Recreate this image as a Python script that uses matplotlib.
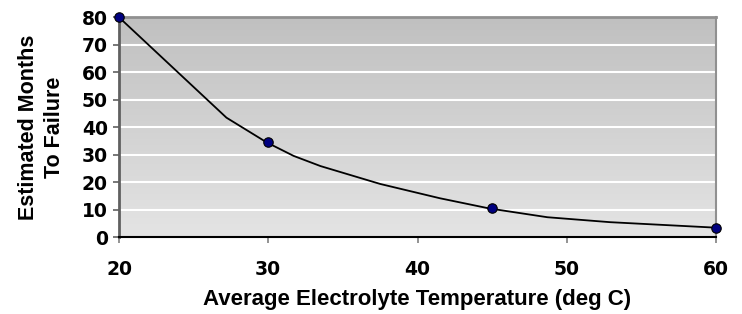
import matplotlib
matplotlib.use("Agg")
import matplotlib.pyplot as plt
import numpy as np

# measured points (markers)
temp = [20, 30, 45, 60]
months = [80, 34.5, 10.5, 3.5]

# vertices of the smoothed curve as drawn in the picture
curve_x = [20, 27.2, 29.9, 31.7, 33.5, 37.5, 41.5, 44.8, 48.7, 52.9, 60]
curve_y = [80, 43.5, 34.5, 29.6, 25.9, 19.4, 14.2, 10.5, 7.3, 5.5, 3.5]

x_ticks = [20, 30, 40, 50, 60]
y_ticks = [0, 10, 20, 30, 40, 50, 60, 70, 80]

plt.rcParams['font.family'] = ['Liberation Sans', 'DejaVu Sans']
plt.rcParams['font.weight'] = 'bold'

fig = plt.figure(figsize=(7.42, 3.14), dpi=100)
ax = fig.add_axes([119 / 742, 1 - 237.3 / 314, 597 / 742, 220 / 314])

# grey gradient background, darker at the top
grad = np.linspace(0, 1, 256).reshape(-1, 1)
ax.imshow(grad, cmap=matplotlib.colors.LinearSegmentedColormap.from_list("g", ["#e4e4e4", "#c0c0c0"]),
          aspect="auto", extent=[20, 60, 0, 80], origin="lower", zorder=0)

for y in y_ticks[1:-1]:
    ax.axhline(y, color="white", lw=1.5, zorder=1)

ax.plot(curve_x, curve_y, color="black", lw=1.3, zorder=3, clip_on=False)
ax.plot(temp, months, linestyle="none", marker="o", markersize=6.8,
        markerfacecolor="#000080", markeredgecolor="black", markeredgewidth=0.8,
        zorder=4, clip_on=False)

ax.set_xlim(20, 60)
ax.set_ylim(0, 80)
ax.set_xticks(x_ticks)
ax.set_yticks(y_ticks)
ax.tick_params(axis="both", labelsize=13.5, direction="out", length=4, width=1.2)
ax.tick_params(axis="y", colors="#606060", labelcolor="black", pad=4)
ax.tick_params(axis="x", colors="#808080", labelcolor="black", pad=12)
for lab in ax.get_xticklabels() + ax.get_yticklabels():
    lab.set_family("DejaVu Sans")
    lab.set_fontweight("bold")

ax.spines["left"].set_color("#606060")
ax.spines["left"].set_linewidth(2)
ax.spines["bottom"].set_color("black")
ax.spines["bottom"].set_linewidth(1.5)
ax.spines["top"].set_color("#909090")
ax.spines["top"].set_linewidth(2)
ax.spines["right"].set_color("#909090")
ax.spines["right"].set_linewidth(1.5)

ax.set_xlabel("Average Electrolyte Temperature (deg C)", fontsize=16, fontweight="bold")
ax.xaxis.set_label_coords(0.5, -0.235)
ax.set_ylabel("Estimated Months\nTo Failure", fontsize=15.5, fontweight="bold", linespacing=1.35)
ax.yaxis.set_label_coords(-0.09, 0.5)

fig.savefig("out.png", dpi=100)
